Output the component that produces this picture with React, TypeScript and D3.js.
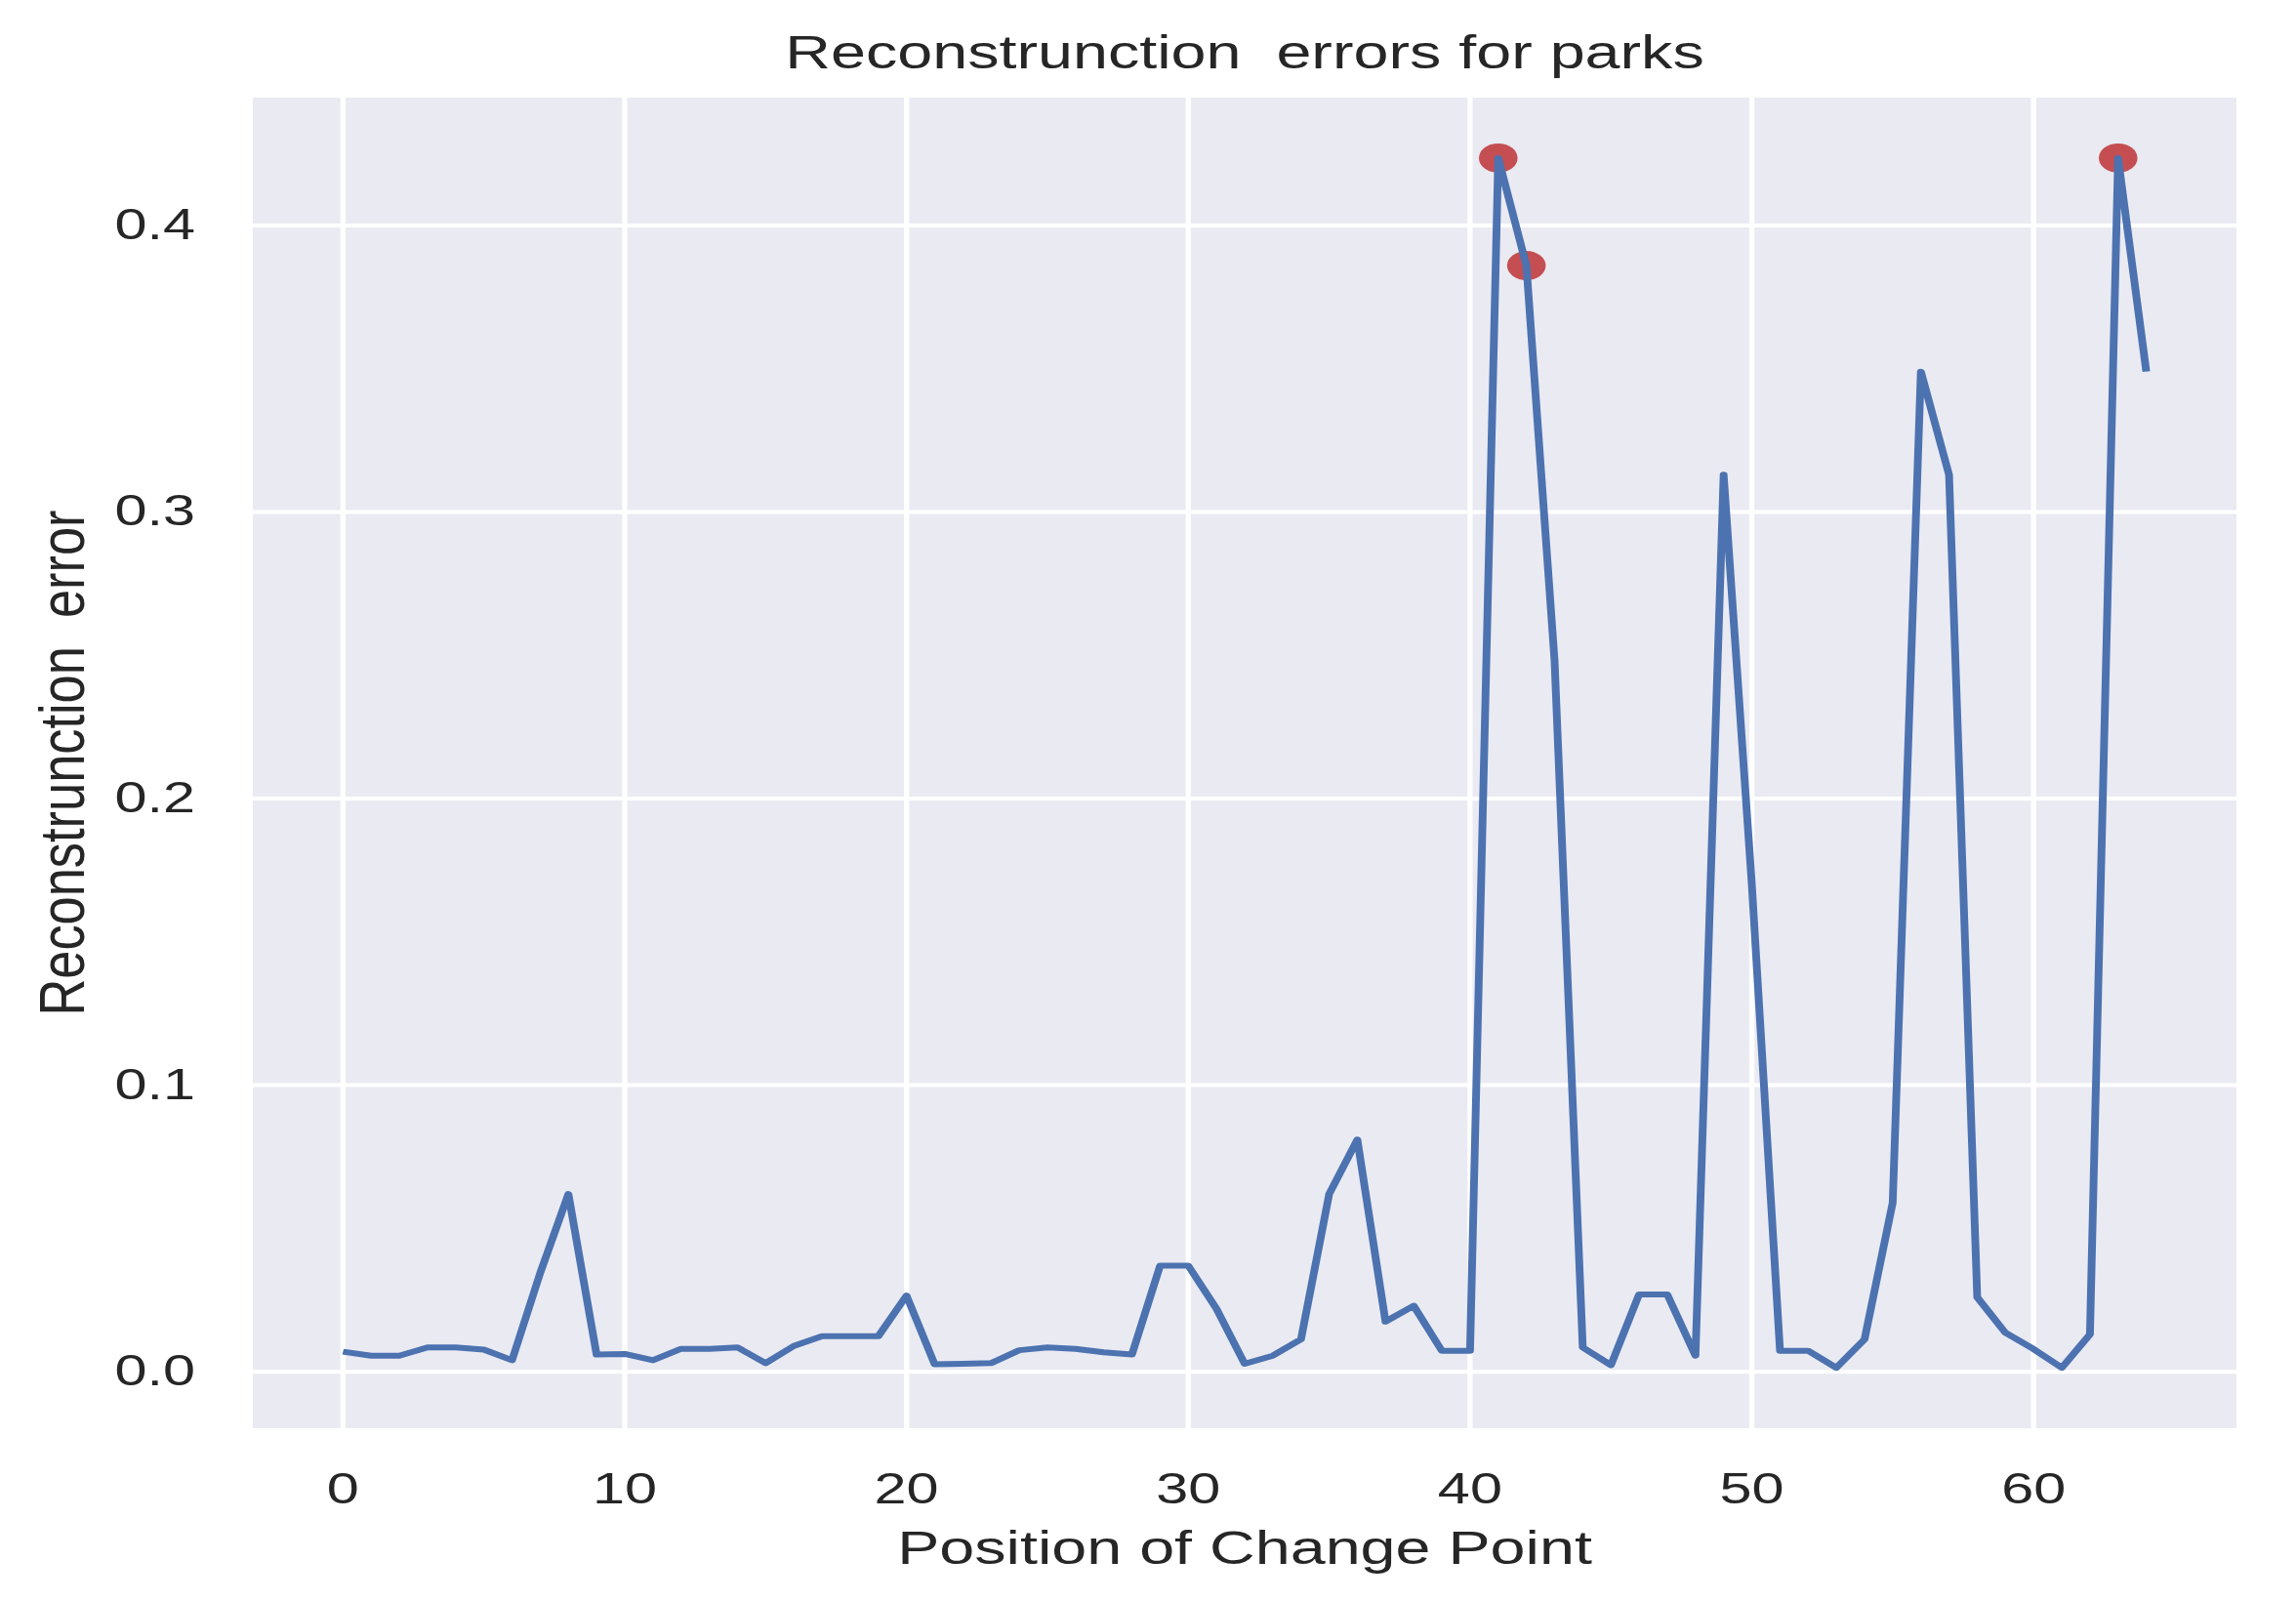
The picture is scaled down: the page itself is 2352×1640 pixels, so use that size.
import React from "react";
import * as d3 from "d3";

// Reconstruction error per change-point position (index = position)
const errors: number[] = [
  0.0070, 0.0056, 0.0056, 0.0085, 0.0085, 0.0077, 0.0040, 0.0345, 0.0620, 0.0060,
  0.0062, 0.0040, 0.0080, 0.0080, 0.0085, 0.0030, 0.0090, 0.0124, 0.0124, 0.0124,
  0.0266, 0.0026, 0.0028, 0.0030, 0.0075, 0.0085, 0.0080, 0.0068, 0.0060, 0.0370,
  0.0370, 0.0220, 0.0028, 0.0056, 0.0113, 0.0620, 0.0810, 0.0175, 0.0230, 0.0073,
  0.0073, 0.4235, 0.3860, 0.2480, 0.0085, 0.0023, 0.0270, 0.0270, 0.0056, 0.3130,
  0.1700, 0.0073, 0.0073, 0.0014, 0.0113, 0.0590, 0.3490, 0.3130, 0.0260, 0.0136,
  0.0079, 0.0014, 0.0130, 0.4235, 0.3490,
];
const positions: number[] = errors.map((_, i) => i);
const anomalies: number[] = [41, 42, 63];
const xTicks: number[] = [0, 10, 20, 30, 40, 50, 60];
const yTicks: number[] = [0.0, 0.1, 0.2, 0.3, 0.4];

const TITLE = "Reconstrunction  errors for parks";
const XLABEL = "Position of Change Point";
const YLABEL = "Reconstrunction  error";

const W = 2352;
const H = 1640;
const S = 1.32; // horizontal stretch of the whole figure
const plotLeft = 259;
const plotRight = 2291;
const plotTop = 100;
const plotBottom = 1463;

const FONT = "'Liberation Sans', Arial, Helvetica, sans-serif";
const TEXT = "#262626";

export default function App() {
  const [x0, x1] = d3.extent(positions) as [number, number];
  const xm = (x1 - x0) * 0.05;
  const [y0, y1] = d3.extent(errors) as [number, number];
  const ym = (y1 - y0) * 0.05;

  const x = d3.scaleLinear().domain([x0 - xm, x1 + xm]).range([plotLeft / S, plotRight / S]);
  const y = d3.scaleLinear().domain([y0 - ym, y1 + ym]).range([plotBottom, plotTop]);

  const line = d3
    .line<number>()
    .x((_, i) => x(positions[i]))
    .y((d) => y(d));

  const cx = (plotLeft + plotRight) / 2 / S;
  const cy = (plotTop + plotBottom) / 2;

  return (
    <svg
      width={W}
      height={H}
      style={{ position: "absolute", left: 0, top: 0, background: "#ffffff" }}
    >
      <g transform={`scale(${S},1)`}>
        <rect
          x={plotLeft / S}
          y={plotTop}
          width={(plotRight - plotLeft) / S}
          height={plotBottom - plotTop}
          fill="#EAEAF2"
        />
        {yTicks.map((t) => (
          <line
            key={"gy" + t}
            x1={plotLeft / S}
            x2={plotRight / S}
            y1={y(t)}
            y2={y(t)}
            stroke="#ffffff"
            strokeWidth={4}
          />
        ))}
        {xTicks.map((t) => (
          <line
            key={"gx" + t}
            x1={x(t)}
            x2={x(t)}
            y1={plotTop}
            y2={plotBottom}
            stroke="#ffffff"
            strokeWidth={4}
          />
        ))}
        {anomalies.map((i) => (
          <circle key={"a" + i} cx={x(positions[i])} cy={y(errors[i])} r={15} fill="#C44E52" />
        ))}
        <path
          d={line(errors) || ""}
          fill="none"
          stroke="#4C72B0"
          strokeWidth={6}
          strokeLinejoin="round"
        />
        {xTicks.map((t) => (
          <text
            key={"tx" + t}
            x={x(t)}
            y={1540}
            textAnchor="middle"
            fontFamily={FONT}
            fontSize={45}
            fill={TEXT}
          >
            {d3.format("d")(t)}
          </text>
        ))}
        {yTicks.map((t) => (
          <text
            key={"ty" + t}
            x={200 / S}
            y={y(t)}
            dy="0.31em"
            textAnchor="end"
            fontFamily={FONT}
            fontSize={45}
            fill={TEXT}
          >
            {d3.format(".1f")(t)}
          </text>
        ))}
        <text
          x={cx}
          y={70}
          textAnchor="middle"
          fontFamily={FONT}
          fontSize={49}
          fill={TEXT}
          style={{ whiteSpace: "pre" }}
        >
          {TITLE}
        </text>
        <text
          x={cx}
          y={1602}
          textAnchor="middle"
          fontFamily={FONT}
          fontSize={49}
          fill={TEXT}
        >
          {XLABEL}
        </text>
        <text
          transform={`translate(${86 / S},${cy}) rotate(-90)`}
          textAnchor="middle"
          fontFamily={FONT}
          fontSize={49}
          fill={TEXT}
          textLength={518}
          lengthAdjust="spacingAndGlyphs"
          style={{ whiteSpace: "pre" }}
        >
          {YLABEL}
        </text>
      </g>
    </svg>
  );
}
